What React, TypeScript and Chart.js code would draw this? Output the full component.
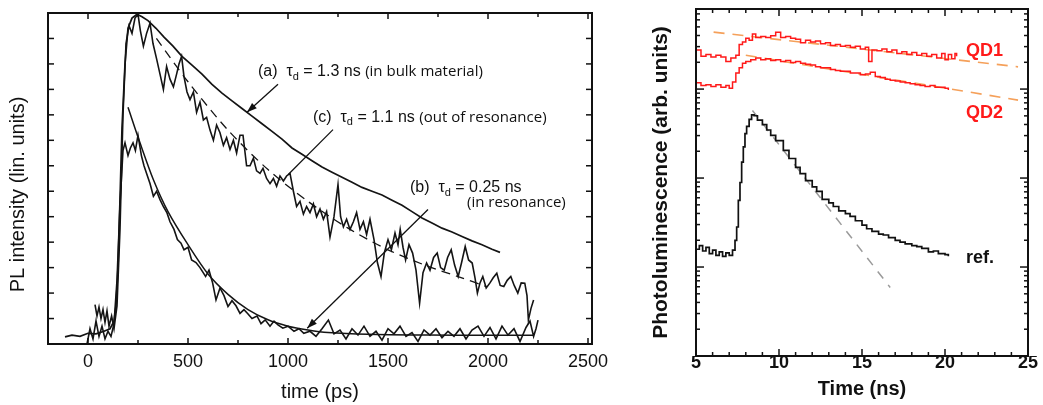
import React, { useEffect, useRef } from "react";
import { Chart, registerables } from "chart.js";
Chart.register(...registerables);

const FONT = '"Liberation Sans", Arial, sans-serif';

// ================= LEFT PANEL (time in ps, intensity in lin. units 0..13) =================
const leftXLabels = [0, 500, 1000, 1500, 2000, 2500];
const leftXMinor = [250, 750, 1250, 1750, 2250];
const leftYTicks = [1, 2, 3, 4, 5, 6, 7, 8, 9, 10, 11, 12];

// (a) bulk material
const bulkT = [-115, -80, -40, 0, 40, 80, 110,
  130, 140, 150, 160, 170, 185, 200, 220, 245,
  270, 300, 340, 380, 425, 470, 520, 570, 620, 670,
  720, 770, 820, 870, 920, 970, 1020, 1070, 1120, 1170,
  1220, 1270, 1320, 1370, 1420, 1470, 1520, 1570, 1620, 1670,
  1720, 1770, 1820, 1870, 1920, 1970, 2020, 2060];
const bulkI = [0.28, 0.35, 0.3, 0.42, 0.4, 0.5, 0.6,
  0.9, 1.5, 3.0, 5.7, 8.5, 11.0, 12.4, 12.8, 12.95,
  12.85, 12.7, 12.4, 12.05, 11.7, 11.3, 10.95, 10.6, 10.2, 9.85,
  9.55, 9.25, 8.95, 8.65, 8.35, 8.05, 7.7, 7.45, 7.2, 6.95,
  6.75, 6.55, 6.35, 6.15, 6.0, 5.85, 5.65, 5.45, 5.2, 4.95,
  4.75, 4.55, 4.4, 4.22, 4.05, 3.9, 3.72, 3.6];

// (c) out of resonance
const outT = [35, 45, 55, 65, 75, 85, 95, 105, 118, 130,
  145, 160, 175, 190, 205, 220, 235, 250, 262, 277,
  293, 310, 325, 343, 360, 377, 393, 410, 427, 443,
  455, 468, 480, 495, 510, 527, 543, 560, 577, 593,
  610, 627, 643, 660, 677, 693, 710, 727, 743, 760,
  775, 793, 810, 827, 843, 860, 875, 893, 910, 927,
  943, 960, 977, 993, 1010, 1027, 1043, 1060, 1077, 1093,
  1110, 1127, 1143, 1160, 1177, 1193, 1210, 1230, 1250, 1263,
  1277, 1293, 1310, 1327, 1343, 1360, 1377, 1393, 1410, 1430,
  1447, 1465, 1482, 1500, 1517, 1535, 1550, 1561, 1575, 1588,
  1605, 1623, 1640, 1658, 1675, 1693, 1710, 1728, 1746, 1763,
  1781, 1798, 1816, 1833, 1851, 1868, 1886, 1903, 1921, 1935,
  1947, 1960, 1974, 1991, 2009, 2026, 2044, 2061, 2079, 2096,
  2114, 2131, 2149, 2166, 2184, 2195, 2202, 2215, 2228];
const outI = [1.55, 1.1, 1.45, 1.0, 1.35, 0.85, 1.3, 0.7, 1.1, 0.6,
  1.5, 4.5, 9.0, 11.8, 12.5, 12.2, 12.8, 12.95, 12.3, 11.7,
  12.2, 12.6, 11.8, 11.2, 10.6, 10.0, 10.9, 10.4, 10.1, 10.6,
  11.0, 11.3, 10.5, 9.9, 9.6, 9.9, 9.1, 9.5, 8.8, 8.9,
  8.4, 8.0, 8.6, 8.3, 7.8, 8.1, 7.64, 8.0, 7.5, 8.2,
  8.2, 7.0, 7.0, 7.3, 6.8, 6.7, 6.9, 6.5, 6.3, 6.5,
  6.2, 6.6, 6.4, 6.6, 6.7, 6.0, 5.4, 5.6, 5.1, 5.4,
  5.16, 5.5, 5.0, 5.3, 4.9, 5.2, 4.2, 5.0, 6.26, 5.0,
  4.6, 4.9, 4.5, 4.8, 5.16, 4.5, 4.8, 4.3, 4.9, 4.1,
  3.2, 2.65, 3.6, 4.1, 3.7, 4.36, 3.9, 4.5, 3.8, 3.3,
  3.9, 3.57, 2.9, 1.6, 2.8, 3.18, 2.9, 3.4, 3.57, 3.0,
  2.9, 3.4, 3.7, 3.1, 2.65, 3.2, 3.83, 3.3, 3.18, 2.6,
  2.0, 2.4, 2.65, 2.2, 2.39, 2.6, 2.78, 2.3, 2.26, 2.5,
  2.65, 2.3, 2.0, 2.4, 2.39, 1.9, 0.94, 1.4, 1.73];
const outFitT = [342, 500, 700, 900, 1100, 1300, 1500, 1700, 1850, 1991];
const outFitI = [12.0, 10.3, 8.4, 6.85, 5.6, 4.55, 3.7, 3.05, 2.65, 2.26];

// (b) in resonance
const resT = [-5, 10, 25, 40, 55, 70, 85, 100, 115, 130,
  145, 160, 175, 185, 200, 212, 225, 237, 250, 267,
  280, 293, 310, 327, 343, 360, 377, 395, 410, 430,
  447, 465, 480, 500, 518, 540, 560, 588, 605, 623,
  640, 660, 680, 700, 720, 740, 760, 780, 798, 820,
  845, 865, 886, 910, 930, 950, 974, 1000, 1030, 1055,
  1079, 1110, 1140, 1170, 1202, 1230, 1260, 1290, 1320, 1350,
  1380, 1410, 1440, 1470, 1500, 1530, 1560, 1590, 1620, 1650,
  1680, 1710, 1740, 1770, 1800, 1830, 1860, 1890, 1920, 1950,
  1980, 2010, 2040, 2070, 2100, 2130, 2160, 2190, 2210, 2228,
  2240, 2250];
const resI = [0, 0.6, 0.2, 0.9, 0.3, 0.7, 0.2, 0.5, 0.3, 0.8,
  2.5, 5.5, 7.6, 7.9, 7.4, 7.7, 7.9, 7.6, 8.2, 7.4,
  7.0, 6.7, 6.3, 5.8, 6.0, 5.67, 5.4, 5.15, 4.8, 4.5,
  4.1, 3.96, 3.7, 3.8, 3.3, 3.2, 3.0, 2.65, 2.9, 2.4,
  1.73, 2.2, 1.9, 1.47, 1.7, 1.5, 1.2, 1.35, 1.2, 1.0,
  1.1, 0.8, 0.95, 0.7, 0.9, 0.75, 0.62, 0.7, 0.5, 0.6,
  0.42, 0.5, 0.3, 0.6, 0.94, 0.4, 0.55, 0.2, 0.6, 0.35,
  0.7, 0.3, 0.5, 0.15, 0.6, 0.4, 0.7, 0.3, 0.45, 0.1,
  0.55, 0.35, 0.6, 0.25, 0.5, 0.3, 0.6, 0.2, 0.55, 0.7,
  0.3, 0.65, 0.2, 0.7, 0.35, 0.6, 0.1, 0.65, 0.9, 0.3,
  0.6, 0.94];
const resFitT = [200, 260, 327, 400, 500, 600, 700, 800, 900, 1000, 1100, 1200, 1400, 1700, 2000, 2228];
const resFitI = [9.3, 7.9, 6.45, 5.2, 3.9, 2.75, 1.95, 1.35, 0.95, 0.7, 0.55, 0.45, 0.38, 0.35, 0.34, 0.34];

// annotations (data coordinates)
const labelTags = ["(a)", "(c)", "(b)"];
const labelTau = ["1.3 ns", "1.1 ns", "0.25 ns"];
const labelNotes = ["(in bulk material)", "(out of resonance)", ""];
const labelT = [850, 1125, 1610];
const labelI = [10.7, 8.9, 6.14];
const subNote = "(in resonance)";
const subNoteT = 1895;
const subNoteI = 5.55;
const arrowFromT = [950, 1225, 1700];
const arrowFromI = [10.2, 8.42, 5.28];
const arrowToT = [795, 1000, 1096];
const arrowToI = [9.1, 6.65, 0.62];
const arrowHasHead = [true, false, true];

// ================= RIGHT PANEL (time in ns, log10 of PL) =================
const rightXLabels = [5, 10, 15, 20, 25];
const rightXMinor = [6, 7, 8, 9, 11, 12, 13, 14, 16, 17, 18, 19, 21, 22, 23, 24];
const rightYMajor = [10, 100, 1000];
const rightYMinor = [2, 3, 4, 5, 6, 7, 8, 9, 20, 30, 40, 50, 60, 70, 80, 90,
  200, 300, 400, 500, 600, 700, 800, 900, 2000, 3000, 4000, 5000, 6000, 7000];

const qd1T = [5.0, 5.3, 5.6, 5.9, 6.2, 6.5, 6.8, 7.1, 7.4, 7.6,
  7.8, 8.0, 8.2, 8.4, 8.6, 8.9, 9.2, 9.5, 9.8, 10.1,
  10.4, 10.7, 11.0, 11.3, 11.6, 11.9, 12.2, 12.5, 12.8, 13.1,
  13.4, 13.7, 14.0, 14.3, 14.6, 14.9, 15.2, 15.4, 15.6, 15.9,
  16.2, 16.5, 16.8, 17.1, 17.4, 17.7, 18.0, 18.3, 18.6, 18.9,
  19.2, 19.5, 19.8, 20.0, 20.2, 20.4, 20.6, 20.7];
const qd1Log = [3.44, 3.37, 3.39, 3.36, 3.38, 3.36, 3.31, 3.35, 3.38, 3.50,
  3.53, 3.57, 3.55, 3.62, 3.58, 3.59, 3.58, 3.60, 3.64, 3.58,
  3.59, 3.57, 3.56, 3.52, 3.55, 3.53, 3.54, 3.51, 3.52, 3.49,
  3.50, 3.48, 3.49, 3.47, 3.48, 3.45, 3.47, 3.31, 3.44, 3.43,
  3.45, 3.42, 3.44, 3.40, 3.42, 3.39, 3.41, 3.38, 3.40, 3.37,
  3.39, 3.35, 3.40, 3.33, 3.39, 3.34, 3.40, 3.37];

const qd2T = [5.0, 5.3, 5.6, 5.9, 6.2, 6.5, 6.8, 7.0, 7.2, 7.4,
  7.6, 7.8, 8.0, 8.3, 8.6, 8.9, 9.2, 9.5, 9.8, 10.1,
  10.4, 10.7, 11.0, 11.3, 11.6, 11.9, 12.2, 12.5, 12.8, 13.1,
  13.4, 13.7, 14.0, 14.3, 14.6, 14.9, 15.2, 15.5, 15.8, 16.1,
  16.4, 16.7, 17.0, 17.3, 17.6, 17.9, 18.2, 18.5, 18.8, 19.1,
  19.4, 19.7, 20.0, 20.2];
const qd2Log = [3.07, 3.04, 3.05, 3.03, 3.05, 3.02, 3.04, 3.01, 3.08, 3.18,
  3.24, 3.29, 3.31, 3.33, 3.35, 3.33, 3.34, 3.32, 3.33, 3.31,
  3.32, 3.30, 3.31, 3.29, 3.28, 3.27, 3.25, 3.24, 3.24, 3.22,
  3.21, 3.20, 3.20, 3.18, 3.18, 3.16, 3.17, 3.19, 3.14, 3.13,
  3.11, 3.10, 3.09, 3.08, 3.07, 3.06, 3.05, 3.04, 3.03, 3.04,
  3.02, 3.02, 3.01, 2.99];

const refT = [5.0, 5.2, 5.4, 5.6, 5.8, 6.0, 6.2, 6.4, 6.6, 6.8,
  7.0, 7.2, 7.35, 7.45, 7.55, 7.65, 7.75, 7.85, 7.95, 8.05,
  8.2, 8.35, 8.5, 8.7, 9.0, 9.26, 9.5, 9.8, 10.26, 10.6,
  11.0, 11.27, 11.6, 12.0, 12.27, 12.6, 13.0, 13.27, 13.6, 14.0,
  14.28, 14.6, 15.0, 15.28, 15.6, 16.0, 16.28, 16.6, 17.0, 17.29,
  17.6, 18.0, 18.3, 18.6, 19.0, 19.3, 19.6, 20.0, 20.2];
const refLog = [1.20, 1.24, 1.18, 1.22, 1.15, 1.19, 1.13, 1.17, 1.12, 1.16,
  1.13, 1.19, 1.30, 1.45, 1.75, 1.95, 2.18, 2.35, 2.50, 2.58,
  2.66, 2.71, 2.70, 2.65, 2.60, 2.54, 2.48, 2.42, 2.31, 2.22,
  2.12, 2.05, 1.97, 1.90, 1.85, 1.76, 1.72, 1.68, 1.63, 1.60,
  1.57, 1.52, 1.47, 1.43, 1.40, 1.37, 1.36, 1.33, 1.30, 1.28,
  1.26, 1.24, 1.23, 1.21, 1.17, 1.18, 1.15, 1.14, 1.12];

const qd1FitT = [6.06, 24.4];
const qd1FitLog = [3.64, 3.25];
const qd2FitT = [8.0, 24.4];
const qd2FitLog = [3.38, 2.876];
const refFitT = [8.4, 16.7];
const refFitLog = [2.76, 0.77];

const rightLabels = ["QD1", "QD2", "ref."];
const rightLabelT = [21.27, 21.27, 21.27];
const rightLabelLog = [3.43, 2.735, 1.1];
const rightLabelColors = ["#ff1a1a", "#ff1a1a", "#111111"];

// ================= helpers =================
const pts = (xs: number[], ys: number[]) => xs.map((x, i) => ({ x, y: ys[i] }));
const logPts = (xs: number[], ls: number[]) => xs.map((x, i) => ({ x, y: Math.pow(10, ls[i]) }));

function seg(ctx: CanvasRenderingContext2D, x1: number, y1: number, x2: number, y2: number) {
  ctx.beginPath();
  ctx.moveTo(x1, y1);
  ctx.lineTo(x2, y2);
  ctx.stroke();
}

function arrowHead(ctx: CanvasRenderingContext2D, x1: number, y1: number, x2: number, y2: number) {
  const len = 10, half = 3.5;
  const a = Math.atan2(y2 - y1, x2 - x1);
  const c = Math.cos(a), s = Math.sin(a);
  ctx.beginPath();
  ctx.moveTo(x2, y2);
  ctx.lineTo(x2 - len * c + half * s, y2 - len * s - half * c);
  ctx.lineTo(x2 - len * c - half * s, y2 - len * s + half * c);
  ctx.closePath();
  ctx.fill();
}

function tauLabel(ctx: CanvasRenderingContext2D, x: number, y: number, tag: string, val: string, note: string) {
  ctx.textAlign = "left";
  ctx.textBaseline = "middle";
  let cx = x;
  ctx.font = `16px ${FONT}`;
  const t1 = `${tag}  τ`;
  ctx.fillText(t1, cx, y);
  cx += ctx.measureText(t1).width;
  ctx.font = `11px ${FONT}`;
  ctx.fillText("d", cx, y + 5);
  cx += ctx.measureText("d").width;
  ctx.font = `16px ${FONT}`;
  const t2 = ` = ${val} `;
  ctx.fillText(t2, cx, y);
  cx += ctx.measureText(t2).width;
  if (note) {
    ctx.font = `15px "Open Sans", ${FONT}`;
    ctx.fillText(note, cx, y);
  }
}

const leftDecor = {
  id: "leftDecor",
  afterDatasetsDraw(chart: any) {
    const { ctx, chartArea: a } = chart;
    const x = chart.scales.x, y = chart.scales.y;
    ctx.save();
    ctx.strokeStyle = "#111";
    ctx.fillStyle = "#111";
    ctx.lineWidth = 1.3;
    for (let i = 0; i < arrowFromT.length; i++) {
      const x1 = x.getPixelForValue(arrowFromT[i]), y1 = y.getPixelForValue(arrowFromI[i]);
      const x2 = x.getPixelForValue(arrowToT[i]), y2 = y.getPixelForValue(arrowToI[i]);
      seg(ctx, x1, y1, x2, y2);
      if (arrowHasHead[i]) arrowHead(ctx, x1, y1, x2, y2);
    }
    for (let i = 0; i < labelTags.length; i++) {
      tauLabel(ctx, x.getPixelForValue(labelT[i]), y.getPixelForValue(labelI[i]), labelTags[i], labelTau[i], labelNotes[i]);
    }
    ctx.font = `15px "Open Sans", ${FONT}`;
    ctx.textAlign = "left";
    ctx.textBaseline = "middle";
    ctx.fillText(subNote, x.getPixelForValue(subNoteT), y.getPixelForValue(subNoteI));

    ctx.lineWidth = 2;
    ctx.strokeRect(a.left, a.top, a.right - a.left, a.bottom - a.top);
    ctx.lineWidth = 1.5;
    leftXLabels.forEach((v) => {
      const px = x.getPixelForValue(v);
      seg(ctx, px, a.bottom, px, a.bottom - 6);
      seg(ctx, px, a.top, px, a.top + 6);
    });
    leftXMinor.forEach((v) => {
      const px = x.getPixelForValue(v);
      seg(ctx, px, a.bottom, px, a.bottom - 4);
      seg(ctx, px, a.top, px, a.top + 4);
    });
    leftYTicks.forEach((v) => {
      const py = y.getPixelForValue(v);
      seg(ctx, a.left, py, a.left + 6, py);
      seg(ctx, a.right, py, a.right - 6, py);
    });
    ctx.translate(18, (a.top + a.bottom) / 2 + 16);
    ctx.rotate(-Math.PI / 2);
    ctx.font = `20px ${FONT}`;
    ctx.textAlign = "center";
    ctx.textBaseline = "middle";
    ctx.fillText("PL intensity (lin. units)", 0, 0);
    ctx.restore();
  },
};

const rightDecor = {
  id: "rightDecor",
  afterDatasetsDraw(chart: any) {
    const { ctx, chartArea: a } = chart;
    const x = chart.scales.x, y = chart.scales.y;
    ctx.save();
    ctx.strokeStyle = "#111";
    ctx.lineWidth = 2;
    ctx.strokeRect(a.left, a.top, a.right - a.left, a.bottom - a.top);
    ctx.lineWidth = 1.5;
    rightXLabels.forEach((v) => {
      const px = x.getPixelForValue(v);
      seg(ctx, px, a.bottom, px, a.bottom - 7);
      seg(ctx, px, a.top, px, a.top + 7);
    });
    rightXMinor.forEach((v) => {
      const px = x.getPixelForValue(v);
      seg(ctx, px, a.bottom, px, a.bottom - 4);
      seg(ctx, px, a.top, px, a.top + 4);
    });
    rightYMajor.forEach((v) => {
      const py = y.getPixelForValue(v);
      seg(ctx, a.left, py, a.left + 8, py);
      seg(ctx, a.right, py, a.right - 8, py);
    });
    rightYMinor.forEach((v) => {
      const py = y.getPixelForValue(v);
      if (py < a.top) return;
      seg(ctx, a.left, py, a.left + 4, py);
      seg(ctx, a.right, py, a.right - 4, py);
    });
    ctx.font = `bold 18px ${FONT}`;
    ctx.textAlign = "left";
    ctx.textBaseline = "middle";
    for (let i = 0; i < rightLabels.length; i++) {
      ctx.fillStyle = rightLabelColors[i];
      ctx.fillText(rightLabels[i], x.getPixelForValue(rightLabelT[i]), y.getPixelForValue(Math.pow(10, rightLabelLog[i])));
    }
    ctx.restore();
  },
};

const hiddenGrid = { display: false, drawTicks: false };

function leftConfig(): any {
  const line = (data: any, extra: any = {}) => ({
    data,
    borderColor: "#141414",
    borderWidth: 1.6,
    pointRadius: 0,
    tension: 0,
    fill: false,
    ...extra,
  });
  return {
    type: "line",
    data: {
      datasets: [
        line(pts(bulkT, bulkI), { borderWidth: 1.7 }),
        line(pts(outT, outI)),
        line(pts(outFitT, outFitI), { borderDash: [9, 6], borderWidth: 1.3, tension: 0.3 }),
        line(pts(resT, resI)),
        line(pts(resFitT, resFitI), { borderWidth: 1.5, tension: 0.3 }),
      ],
    },
    options: {
      responsive: false,
      animation: false,
      devicePixelRatio: 1,
      events: [],
      layout: { padding: { left: 0, top: 13, right: 38, bottom: 0 } },
      plugins: { legend: { display: false }, tooltip: { enabled: false } },
      scales: {
        x: {
          type: "linear",
          position: "bottom",
          min: -200,
          max: 2520,
          grid: hiddenGrid,
          border: { display: false },
          ticks: {
            color: "#111",
            font: { family: FONT, size: 18 },
            padding: 7,
            maxRotation: 0,
            autoSkip: false,
            callback: (v: number) => String(v),
          },
          afterBuildTicks: (s: any) => {
            s.ticks = leftXLabels.map((v) => ({ value: v }));
          },
          afterFit: (s: any) => {
            s.height = 61;
            s.paddingLeft = 0;
            s.paddingRight = 0;
          },
          title: {
            display: true,
            text: "time (ps)",
            color: "#111",
            font: { family: FONT, size: 20 },
            padding: { top: 0, bottom: 1 },
          },
        },
        y: {
          type: "linear",
          min: 0,
          max: 13,
          grid: hiddenGrid,
          border: { display: false },
          ticks: { display: false },
          afterFit: (s: any) => {
            s.width = 48;
            s.paddingTop = 0;
            s.paddingBottom = 0;
          },
        },
      },
    },
    plugins: [leftDecor],
  };
}

function rightConfig(): any {
  const line = (data: any, color: string, extra: any = {}) => ({
    data,
    borderColor: color,
    borderWidth: 1.5,
    pointRadius: 0,
    tension: 0,
    fill: false,
    ...extra,
  });
  return {
    type: "line",
    data: {
      datasets: [
        line(logPts(qd1T, qd1Log), "#ff1a1a", { stepped: true }),
        line(logPts(qd2T, qd2Log), "#ff1a1a", { stepped: true }),
        line(logPts(refT, refLog), "#111111", { stepped: true, borderWidth: 1.7 }),
        line(logPts(qd1FitT, qd1FitLog), "#f5a05a", { borderDash: [11, 8], borderWidth: 1.6 }),
        line(logPts(qd2FitT, qd2FitLog), "#f5a05a", { borderDash: [11, 8], borderWidth: 1.6 }),
        line(logPts(refFitT, refFitLog), "#9a9a9a", { borderDash: [9, 8], borderWidth: 1.5 }),
      ],
    },
    options: {
      responsive: false,
      animation: false,
      devicePixelRatio: 1,
      events: [],
      layout: { padding: { left: 0, top: 9, right: 15, bottom: 0 } },
      plugins: { legend: { display: false }, tooltip: { enabled: false } },
      scales: {
        x: {
          type: "linear",
          position: "bottom",
          min: 5,
          max: 25,
          grid: hiddenGrid,
          border: { display: false },
          ticks: {
            color: "#111",
            font: { family: FONT, size: 18, weight: "bold" },
            padding: -4,
            maxRotation: 0,
            autoSkip: false,
            callback: (v: number) => String(v),
          },
          afterBuildTicks: (s: any) => {
            s.ticks = rightXLabels.map((v) => ({ value: v }));
          },
          afterFit: (s: any) => {
            s.height = 49;
            s.paddingLeft = 0;
            s.paddingRight = 0;
          },
          title: {
            display: true,
            text: "Time (ns)",
            color: "#111",
            font: { family: FONT, size: 20, weight: "bold" },
            padding: { top: 0, bottom: 4 },
          },
        },
        y: {
          type: "logarithmic",
          min: 1,
          max: 7943,
          grid: hiddenGrid,
          border: { display: false },
          ticks: { display: false },
          afterFit: (s: any) => {
            s.width = 96;
            s.paddingTop = 0;
            s.paddingBottom = 0;
          },
          title: {
            display: true,
            text: "Photoluminescence (arb. units)",
            color: "#111",
            font: { family: FONT, size: 21, weight: "bold" },
            padding: { top: 49, bottom: 0 },
          },
        },
      },
    },
    plugins: [rightDecor],
  };
}

export default function App() {
  const leftRef = useRef<HTMLCanvasElement>(null);
  const rightRef = useRef<HTMLCanvasElement>(null);
  useEffect(() => {
    const c1 = new Chart(leftRef.current as HTMLCanvasElement, leftConfig());
    const c2 = new Chart(rightRef.current as HTMLCanvasElement, rightConfig());
    return () => {
      c1.destroy();
      c2.destroy();
    };
  }, []);
  return (
    <div style={{ position: "absolute", left: 0, top: 0, width: 1043, height: 405, background: "#fff", overflow: "hidden" }}>
      <canvas ref={leftRef} width={630} height={405} style={{ position: "absolute", left: 0, top: 0, width: 630, height: 405 }} />
      <canvas ref={rightRef} width={443} height={405} style={{ position: "absolute", left: 600, top: 0, width: 443, height: 405 }} />
    </div>
  );
}
